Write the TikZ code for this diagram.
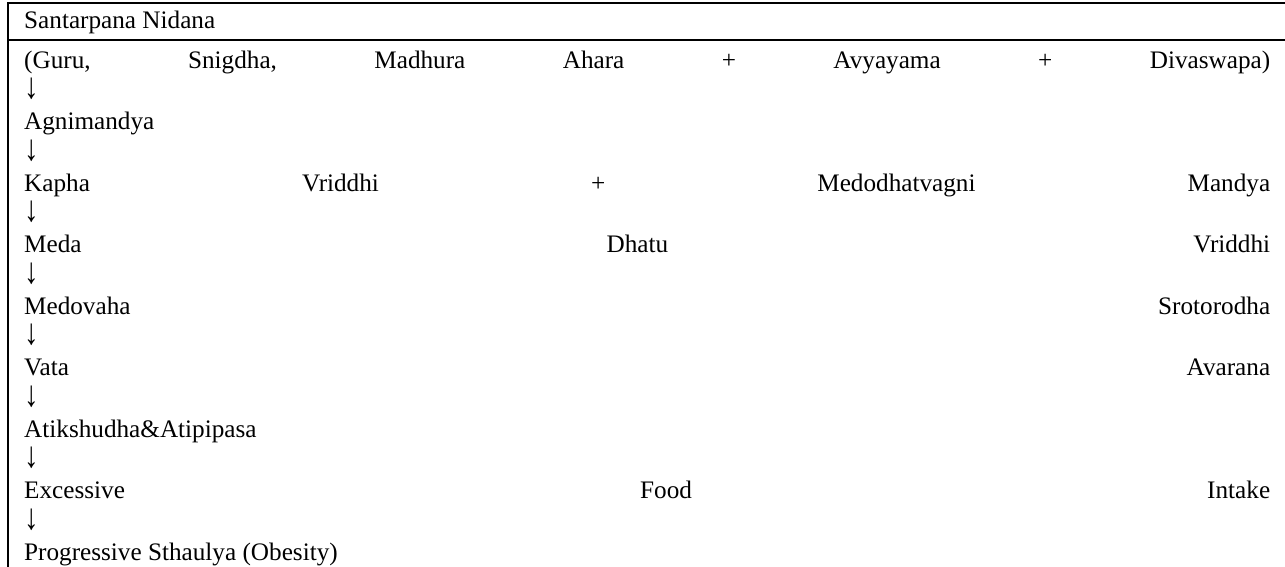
\documentclass[tikz,border=0pt]{standalone}
\usepackage{graphicx}
\usepackage{fontspec}
\setmainfont{Liberation Serif}
\newcommand{\justrow}[1]{\hbox to 1246pt{#1}}
\newcommand{\downarr}{\scalebox{1.15}[1.45]{↓}}
\tikzset{
  txt/.style={anchor=base west, inner sep=0pt, font=\fontsize{25.2}{30}\selectfont},
  rulel/.style={line width=2.7pt, line cap=rect}
}
\begin{document}
\begin{tikzpicture}[x=1pt,y=-1pt]
\useasboundingbox (0,0) rectangle (1285,566);
% frame
\coordinate (tl) at (8,3);
\coordinate (tr) at (1285,3);
\coordinate (bl) at (8,566);
\coordinate (ml) at (8,40);
\coordinate (mr) at (1285,40);
\draw[rulel] (tr) -- (tl) -- (bl);
\draw[rulel] (ml) -- (mr);
% text
\node[txt] (h) at (24,28) {Santarpana Nidana};
\node[txt] (r1) at (24,68) {\justrow{(Guru,\hfill Snigdha,\hfill Madhura\hfill Ahara\hfill +\hfill Avyayama\hfill +\hfill Divaswapa)}};
\node[txt] (a1) at (24,98.75) {\downarr};
\node[txt] (r2) at (24,129.5) {Agnimandya};
\node[txt] (a2) at (24,160.25) {\downarr};
\node[txt] (r3) at (24,191) {\justrow{Kapha\hfill Vriddhi\hfill +\hfill Medodhatvagni\hfill Mandya}};
\node[txt] (a3) at (24,221.75) {\downarr};
\node[txt] (r4) at (24,252.5) {\justrow{Meda\hfill Dhatu\hfill Vriddhi}};
\node[txt] (a4) at (24,283.25) {\downarr};
\node[txt] (r5) at (24,314) {\justrow{Medovaha\hfill Srotorodha}};
\node[txt] (a5) at (24,344.75) {\downarr};
\node[txt] (r6) at (24,375.5) {\justrow{Vata\hfill Avarana}};
\node[txt] (a6) at (24,406.25) {\downarr};
\node[txt] (r7) at (24,437) {Atikshudha\&Atipipasa};
\node[txt] (a7) at (24,467.75) {\downarr};
\node[txt] (r8) at (24,498.5) {\justrow{Excessive\hfill Food\hfill Intake}};
\node[txt] (a8) at (24,529.25) {\downarr};
\node[txt] (r9) at (24,560) {Progressive Sthaulya (Obesity)};
\end{tikzpicture}
\end{document}
